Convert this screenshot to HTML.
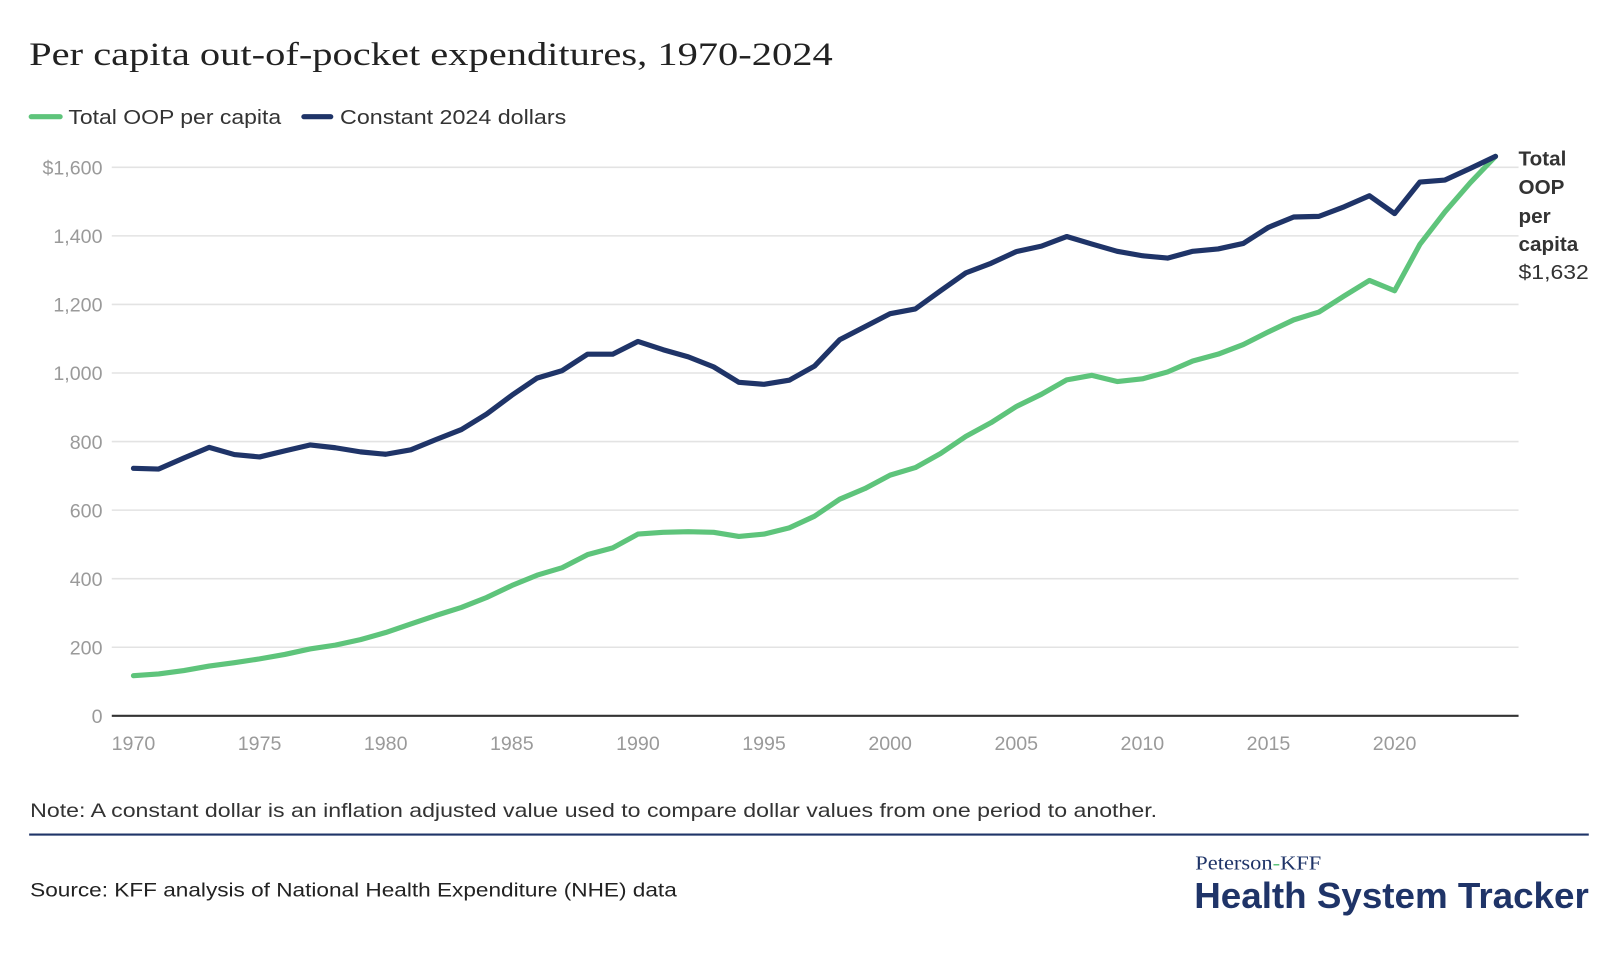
<!DOCTYPE html>
<html><head><meta charset="utf-8"><style>
html,body{margin:0;padding:0;background:#fff;}
svg{display:block;}
text{font-family:"Liberation Sans",sans-serif;}
</style></head><body>
<svg id="chart" width="1620" height="974" viewBox="0 0 1568 943" xmlns="http://www.w3.org/2000/svg">
<text x="28" y="63" style="font-family:'Liberation Serif',serif" font-size="32" fill="#222" textLength="778" lengthAdjust="spacingAndGlyphs">Per capita out-of-pocket expenditures, 1970-2024</text>
<g>
<line x1="30" y1="113" x2="58" y2="113" stroke="#5ec47b" stroke-width="5" stroke-linecap="round"/>
<text x="66" y="120" font-size="20" fill="#333" textLength="206" lengthAdjust="spacingAndGlyphs">Total OOP per capita</text>
<line x1="294" y1="113" x2="320" y2="113" stroke="#1f3468" stroke-width="5" stroke-linecap="round"/>
<text x="329" y="120" font-size="20" fill="#333" textLength="219" lengthAdjust="spacingAndGlyphs">Constant 2024 dollars</text>
</g>
<g id="grid"></g>
<g id="yticks"></g>
<g id="xticks"></g>
<g id="series"></g>
<g font-size="20" fill="#333">
<text x="1470" y="160" font-weight="bold">Total</text>
<text x="1470" y="188" font-weight="bold">OOP</text>
<text x="1470" y="216" font-weight="bold">per</text>
<text x="1470" y="243" font-weight="bold">capita</text>
<text x="1470" y="270" textLength="68" lengthAdjust="spacingAndGlyphs">$1,632</text>
</g>
<text x="29" y="791" font-size="19" fill="#333" textLength="1091" lengthAdjust="spacingAndGlyphs">Note: A constant dollar is an inflation adjusted value used to compare dollar values from one period to another.</text>
<line x1="28" y1="808" x2="1538" y2="808" stroke="#1f3468" stroke-width="2"/>
<text x="29" y="868" font-size="19" fill="#222" textLength="626" lengthAdjust="spacingAndGlyphs">Source: KFF analysis of National Health Expenditure (NHE) data</text>
<text x="1157" y="842" style="font-family:'Liberation Serif',serif" font-size="19" fill="#1f3468" textLength="122" lengthAdjust="spacingAndGlyphs">Peterson<tspan fill="#5ec47b">-</tspan>KFF</text>
<text x="1156" y="879" font-size="35" font-weight="bold" fill="#1f3468" textLength="382" lengthAdjust="spacingAndGlyphs">Health System Tracker</text>
</svg>
<script>
const years=[];for(let y=1970;y<=2024;y++)years.push(y);
const totalOOP=[117,122,132,145,155,166,179,195,206,222,243,268,293,316,345,380,410,432,470,490,530,535,537,535,523,530,548,582,632,663,702,724,765,815,855,902,938,980,993,975,983,1003,1035,1055,1083,1120,1155,1178,1225,1270,1240,1375,1470,1555,1632];
const constant2024=[722,720,752,783,762,755,773,790,782,770,763,776,806,835,880,935,985,1007,1055,1055,1092,1068,1047,1018,973,967,979,1020,1097,1135,1173,1187,1240,1292,1320,1354,1370,1398,1376,1355,1342,1335,1355,1362,1378,1425,1455,1457,1485,1517,1465,1557,1563,1597,1632];
const yTicks=[0,200,400,600,800,1000,1200,1400,1600];
const yTickLabels=["0","200","400","600","800","1,000","1,200","1,400","$1,600"];
const xTicks=[1970,1975,1980,1985,1990,1995,2000,2005,2010,2015,2020];
const NS="http://www.w3.org/2000/svg";
const X=v=>129+(v-1970)*(1350-129)/50;
const Y=v=>693-v*(693-162)/1600;
function mk(tag,attrs,parent){const e=document.createElementNS(NS,tag);for(const k in attrs)e.setAttribute(k,attrs[k]);parent.appendChild(e);return e;}
const grid=document.getElementById('grid'),yt=document.getElementById('yticks'),xt=document.getElementById('xticks'),ser=document.getElementById('series');
yTicks.forEach((v,i)=>{
 if(v>0){const l=mk('line',{x1:108,x2:1470,y1:Y(v),y2:Y(v),stroke:'#e3e3e3','stroke-width':1.5},grid);
 
 }
 const t=mk('text',{x:99,y:Y(v)+7,'text-anchor':'end','font-size':19,fill:'#9a9a9a'},yt);
 t.textContent=yTickLabels[i];
 
 
});
const base=mk('line',{x1:108,x2:1470,y1:Y(0),y2:Y(0),stroke:'#333','stroke-width':2},xt);


xTicks.forEach(v=>{
 const t=mk('text',{x:X(v),y:Y(0)+33,'text-anchor':'middle','font-size':19,fill:'#9a9a9a'},xt);
 t.textContent=v;
 
 
});
function line(vals,color,name){
 const d=vals.map((v,i)=>(i?'L':'M')+X(years[i]).toFixed(1)+','+Y(v).toFixed(1)).join('');
 const p=mk('path',{d:d,fill:'none',stroke:color,'stroke-width':5,'stroke-linejoin':'round','stroke-linecap':'round'},ser);
 
 
}
line(totalOOP,'#5ec47b','total-oop-line');
line(constant2024,'#1f3468','constant-dollars-line');
</script>
</body></html>
